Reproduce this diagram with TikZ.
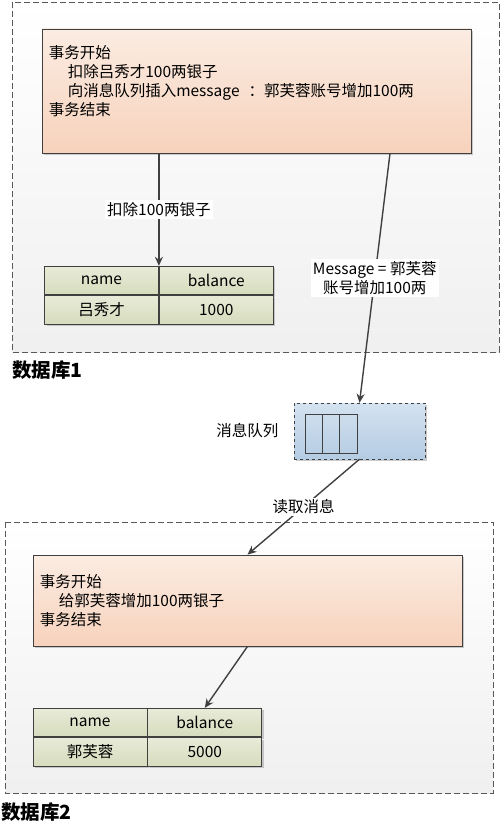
\documentclass[tikz,border=0pt]{standalone}
\usepackage{fontspec}
\setmainfont{Noto Sans CJK SC}
\usetikzlibrary{positioning,arrows.meta,shadows}
\definecolor{txtop}{RGB}{251,236,226}
\definecolor{txbot}{RGB}{247,210,188}
\definecolor{tbtop}{RGB}{232,235,216}
\definecolor{tbbot}{RGB}{214,220,189}
\definecolor{qtop}{RGB}{212,226,240}
\definecolor{qbot}{RGB}{180,204,227}
\definecolor{ln}{RGB}{64,64,64}
\begin{document}
\begin{tikzpicture}[x=1pt,y=-1pt,font=\fontsize{15.5}{19}\selectfont,
                    db/.style={draw=black!65,dash pattern=on 6pt off 3pt,top color=white,bottom color=black!6},
                    shd/.style={drop shadow={shadow xshift=2pt,shadow yshift=-2pt,fill=black!40,opacity=.5}},
                    txbox/.style={draw=ln,line width=0.8pt,top color=txtop,bottom color=txbot,shd,minimum width=429pt},
                    txt/.style={anchor=north west,align=left,inner sep=0pt},
                    cell/.style={draw=ln,line width=0.8pt,top color=tbtop,bottom color=tbbot,shd,
                                 minimum width=114pt,minimum height=28.5pt,inner sep=0pt},
                    arr/.style={draw=ln,line width=1.4pt,-{Stealth[length=9pt,width=8pt]}},
                    lbl/.style={fill=white,inner sep=2pt,align=center},
                    dblbl/.style={anchor=west,inner sep=0pt,font=\fontsize{19.5}{22}\selectfont\bfseries}]
  \useasboundingbox (0,0) rectangle (502,829);
  % 数据库1
  \draw[db] (12,2) rectangle (499,352);
  \node[dblbl] (db1) at (12,370) {数据库1};
  \node[txbox,minimum height=124pt] (tx1) at (256.5,91) {};
  \node[txt] (tx1t) at ([shift={(7,17)}]tx1.north west)
    {事务开始\\\hspace*{19pt}扣除吕秀才100两银子\\\hspace*{19pt}向消息队列插入message\hspace{9pt}：郭芙蓉账号增加100两\\事务结束};
  \node[cell] (t1a) at (101.5,280.5) {name};
  \node[cell,right=0pt of t1a] (t1b) {balance};
  \node[cell,below=0pt of t1a] (t1c) {吕秀才};
  \node[cell,below=0pt of t1b] (t1d) {1000};
  % 消息队列
  \node[draw=ln,dashed,top color=qtop,bottom color=qbot,shd,minimum width=131pt,minimum height=56pt] (q) at (359.5,431) {};
  \foreach \i in {0,1,2}
    \draw[ln,line width=0.8pt] (305+17.3*\i,414) rectangle ++(17.3,39);
  \node[left=12pt of q] (ql) {消息队列};
  % 数据库2
  \draw[db] (5,522) rectangle (493,793);
  \node[dblbl] (db2) at (1,812) {数据库2};
  \node[txbox,minimum height=91pt] (tx2) at (247.5,600.5) {};
  \node[txt] (tx2t) at ([shift={(7,19.5)}]tx2.north west)
    {事务开始\\\hspace*{19pt}给郭芙蓉增加100两银子\\事务结束};
  \node[cell] (t2a) at (90,722.5) {name};
  \node[cell,right=0pt of t2a] (t2b) {balance};
  \node[cell,below=0pt of t2a] (t2c) {郭芙蓉};
  \node[cell,below=0pt of t2b] (t2d) {5000};
  % arrows
  \draw[arr] (tx1.south -| t1a.north east) -- node[lbl] {扣除100两银子} (t1a.north east);
  \draw[arr] ([xshift=133.5pt]tx1.south) -- node[lbl] {Message = 郭芙蓉\\账号增加100两} (q.north);
  \draw[arr] (q.south) -- node[lbl] {读取消息} (tx2.north);
  \draw[arr] (tx2.south) -- (t2b.north);
\end{tikzpicture}
\end{document}
